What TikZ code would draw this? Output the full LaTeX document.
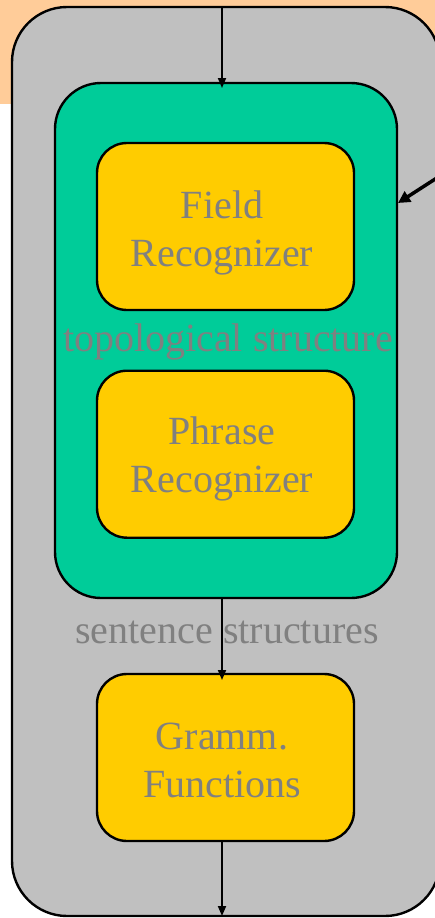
\documentclass[tikz,border=0pt]{standalone}
\usepackage{fontspec}
\setmainfont{Liberation Serif}
\usetikzlibrary{arrows.meta}
\definecolor{peach}{HTML}{FFCC99}
\definecolor{outergray}{HTML}{C0C0C0}
\definecolor{greenbox}{HTML}{00CC99}
\definecolor{yellowbox}{HTML}{FFCC00}
\definecolor{textgray}{HTML}{808080}
\tikzset{
  boxbase/.style={draw=black, line width=2.4pt, inner sep=0pt},
  graybox/.style={boxbase, fill=outergray, rounded corners=55pt},
  greenarea/.style={boxbase, fill=greenbox, rounded corners=46pt},
  yellowarea/.style={boxbase, fill=yellowbox, rounded corners=30pt, minimum width=257pt, minimum height=167pt},
  lbl/.style={text=textgray, font=\fontsize{40}{48}\selectfont, inner sep=0pt, anchor=base, align=center},
  flow/.style={draw=black, line width=1.8pt, -{Triangle[length=10pt, width=8pt]}},
  bigflow/.style={draw=black, line width=3.5pt, -{Triangle[length=12pt, width=12pt]}}
}
\begin{document}
\begin{tikzpicture}[x=1pt, y=-1pt]
\useasboundingbox (0,0) rectangle (435,918);
\clip (0,0) rectangle (435,918);
\fill[peach] (0,0) rectangle (440,104);
\node[graybox, minimum width=428pt, minimum height=909pt] (outer) at (226,461.5) {};
\node[greenarea, minimum width=342pt, minimum height=515pt] (green) at (226,340.5) {};
\node[yellowarea] (field) at (225.5,226.5) {};
\node[yellowarea] (phrase) at (225.5,454.2) {};
\node[yellowarea] (gramm) at (225.5,757.5) {};
\node[lbl] (fieldtxt) at (222,266) {Field\\Recognizer};
\node[lbl] (phrasetxt) at (222,492.7) {Phrase\\Recognizer};
\node[lbl] (grammtxt) at (222,797) {Gramm.\\Functions};
\node[lbl] (topo) at (228,351) {topological structure};
\node[lbl] (sent) at (227,643) {sentence structures};
\coordinate (topin) at (222,7);
\coordinate (greentop) at (222,88);
\coordinate (greenbot) at (222,599);
\coordinate (grammtop) at (222,680);
\coordinate (grammbot) at (222,841);
\coordinate (outerbot) at (222,916);
\coordinate (rightin) at (460,163);
\coordinate (rightend) at (398,203);
\draw[flow] (topin) -- (greentop);
\draw[flow] (greenbot) -- (grammtop);
\draw[flow] (grammbot) -- (outerbot);
\draw[bigflow] (rightin) -- (rightend);
\end{tikzpicture}
\end{document}
